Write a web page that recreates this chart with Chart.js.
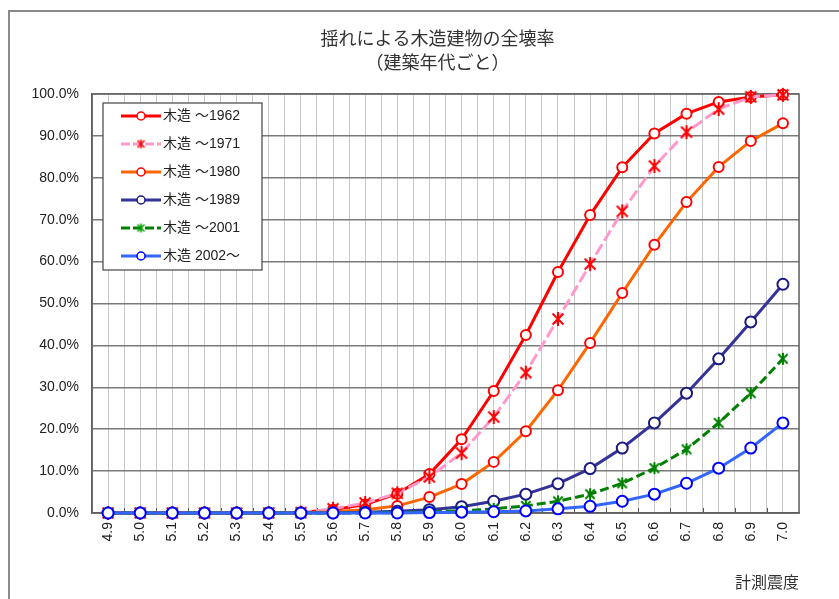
<!DOCTYPE html>
<html lang="ja">
<head>
<meta charset="utf-8">
<script src="https://cdn.jsdelivr.net/npm/chart.js@4.4.1/dist/chart.umd.min.js"></script>
<style>
  html, body { margin: 0; padding: 0; background: #fff; }
  #wrap { position: relative; width: 839px; height: 599px; overflow: hidden; }
  #frame { position: absolute; left: 8px; top: 10px; width: 900px; height: 700px;
           border-top: 2px solid #8a8a8a; border-left: 2px solid #8a8a8a; }
  #chart { position: absolute; left: 0; top: 0; }
</style>
</head>
<body>
<div id="wrap">
  <div id="frame"></div>
  <canvas id="chart" width="839" height="599"></canvas>
</div>
<script>
// ----------------------------------------------------
// DATA
// ----------------------------------------------------
const titleLines = ['揺れによる木造建物の全壊率', '（建築年代ごと）'];
const xAxisTitle = '計測震度';
const intensity = ['4.9', '5.0', '5.1', '5.2', '5.3', '5.4', '5.5', '5.6', '5.7', '5.8', '5.9',
                   '6.0', '6.1', '6.2', '6.3', '6.4', '6.5', '6.6', '6.7', '6.8', '6.9', '7.0'];
const seriesNames = ['木造 ～1962', '木造 ～1971', '木造 ～1980', '木造 ～1989', '木造 ～2001', '木造 2002～'];

const upTo1962 = [0, 0, 0, 0, 0, 0, 0.2, 0.8, 2.0, 4.6, 9.3, 17.6, 29.1, 42.5, 57.5, 71.1, 82.5, 90.6, 95.3, 98.1, 99.3, 99.8];
const upTo1971 = [0, 0, 0, 0, 0, 0, 0.1, 1.0, 2.4, 4.7, 8.6, 14.3, 22.9, 33.5, 46.3, 59.4, 72.0, 82.8, 90.9, 96.4, 99.3, 99.8];
const upTo1980 = [0, 0, 0, 0, 0, 0, 0, 0.3, 0.8, 1.7, 3.8, 6.9, 12.2, 19.5, 29.3, 40.6, 52.5, 64.0, 74.2, 82.6, 88.8, 93.0];
const upTo1989 = [0, 0, 0, 0, 0, 0, 0, 0, 0.2, 0.4, 0.8, 1.5, 2.8, 4.5, 7.0, 10.6, 15.5, 21.5, 28.6, 36.8, 45.6, 54.6];
const upTo2001 = [0, 0, 0, 0, 0, 0, 0, 0, 0, 0.1, 0.3, 0.5, 1.0, 1.7, 2.8, 4.5, 7.1, 10.7, 15.2, 21.5, 28.6, 36.8];
const from2002 = [0, 0, 0, 0, 0, 0, 0, 0, 0, 0, 0.1, 0.2, 0.3, 0.5, 1.0, 1.6, 2.8, 4.5, 7.1, 10.7, 15.5, 21.5];

const FONT = "'Liberation Sans', 'Noto Sans CJK JP', sans-serif";
const JP_FONT = "'Noto Sans CJK JP', 'Liberation Sans', sans-serif";

// Excel-like star marker: vertical bar + X
function makeStar(color, size, lw) {
  const c = document.createElement('canvas');
  c.width = size; c.height = size;
  const g = c.getContext('2d');
  const m = size / 2, r = size / 2 - 1;
  const d = r * 0.78;
  g.strokeStyle = color; g.lineWidth = lw;
  g.beginPath();
  g.moveTo(m, m - r); g.lineTo(m, m + r);
  g.moveTo(m - d, m - d); g.lineTo(m + d, m + d);
  g.moveTo(m + d, m - d); g.lineTo(m - d, m + d);
  g.stroke();
  return c;
}

const styles = [
  { line: '#ff0000', point: 'circle', pBorder: '#ff0000', radius: 5, dash: [] },
  { line: '#ff99cc', point: makeStar('#ff0000', 16, 2), legendPoint: makeStar('#ff0000', 11, 1.5), pBorder: '#ff0000', radius: 7, dash: [12, 4] },
  { line: '#ff6600', point: 'circle', pBorder: '#ff0000', radius: 5, dash: [] },
  { line: '#333399', point: 'circle', pBorder: '#1a1a80', radius: 5.5, dash: [] },
  { line: '#008000', point: makeStar('#008000', 14, 2), legendPoint: makeStar('#00a000', 11, 1.5), pBorder: '#008000', radius: 6, dash: [9, 4] },
  { line: '#3366ff', point: 'circle', pBorder: '#0000ff', radius: 5.5, dash: [] }
];
const seriesValues = [upTo1962, upTo1971, upTo1980, upTo1989, upTo2001, from2002];

const datasets = seriesValues.map((vals, i) => ({
  label: seriesNames[i],
  data: vals,
  borderColor: styles[i].line,
  borderWidth: 3,
  borderDash: styles[i].dash,
  tension: 0,
  clip: false,
  pointStyle: styles[i].point,
  pointRadius: styles[i].radius,
  pointBorderColor: styles[i].pBorder,
  pointBackgroundColor: '#ffffff',
  pointBorderWidth: 2,
  order: seriesValues.length - i
}));

// ----------------------------------------------------
// PLUGINS
// ----------------------------------------------------
const titlePlugin = {
  id: 'jpTitle',
  afterDraw(chart) {
    const { ctx, chartArea } = chart;
    const cx = (chartArea.left + chartArea.right) / 2 - 8;
    ctx.save();
    ctx.fillStyle = '#333';
    ctx.font = '18px ' + JP_FONT;
    ctx.textAlign = 'center';
    ctx.textBaseline = 'middle';
    ctx.fillText(titleLines[0], cx, 38);
    ctx.fillText(titleLines[1], cx, 62);
    ctx.restore();
  }
};

const plotFramePlugin = {
  id: 'plotFrame',
  beforeDatasetsDraw(chart) {
    const { ctx, chartArea } = chart;
    const xs = chart.scales.x;
    ctx.save();
    ctx.strokeStyle = '#555';
    ctx.lineWidth = 1;
    ctx.beginPath();
    for (let i = 1; i < intensity.length; i++) {
      const bx = Math.round((xs.getPixelForTick(i - 1) + xs.getPixelForTick(i)) / 2) + 0.5;
      ctx.moveTo(bx, chartArea.bottom - 5);
      ctx.lineTo(bx, chartArea.bottom);
    }
    ctx.stroke();
    ctx.strokeStyle = '#666';
    ctx.lineWidth = 1.5;
    ctx.strokeRect(chartArea.left, chartArea.top, chartArea.right - chartArea.left, chartArea.bottom - chartArea.top);
    ctx.restore();
  }
};

const boxLegendPlugin = {
  id: 'boxLegend',
  afterDraw(chart) {
    const { ctx, chartArea } = chart;
    const left = chartArea.left + 11, top = chartArea.top + 9;
    const w = 159, h = 167;
    ctx.save();
    ctx.fillStyle = '#fff';
    ctx.fillRect(left, top, w, h);
    ctx.strokeStyle = '#444';
    ctx.lineWidth = 1.2;
    ctx.strokeRect(left, top, w, h);
    chart.data.datasets.forEach((ds, i) => {
      const y = top + 13 + i * 28;
      const x0 = left + 18, x1 = left + 58;
      ctx.strokeStyle = ds.borderColor;
      ctx.lineWidth = 3;
      ctx.setLineDash(ds.borderDash.length ? [9, 3] : []);
      ctx.beginPath();
      ctx.moveTo(x0, y); ctx.lineTo(x1, y);
      ctx.stroke();
      ctx.setLineDash([]);
      ctx.fillStyle = '#fff';
      ctx.strokeStyle = ds.pointBorderColor;
      ctx.lineWidth = 1.5;
      const ps = styles[i].legendPoint || 'circle';
      Chart.helpers.drawPoint(ctx, { pointStyle: ps, radius: 4, borderWidth: 1.5, rotation: 0 }, (x0 + x1) / 2, y);
      ctx.fillStyle = '#222';
      ctx.font = '14px ' + FONT;
      ctx.textAlign = 'left';
      ctx.textBaseline = 'middle';
      ctx.fillText(ds.label, x1 + 2, y);
    });
    ctx.restore();
  }
};

// ----------------------------------------------------
// CHART
// ----------------------------------------------------
new Chart(document.getElementById('chart'), {
  type: 'line',
  data: { labels: intensity, datasets: datasets },
  options: {
    responsive: false,
    animation: false,
    layout: { padding: { top: 94, right: 40, left: 0, bottom: 0 } },
    plugins: {
      legend: { display: false },
      title: { display: false },
      tooltip: { enabled: false }
    },
    scales: {
      x: {
        type: 'category',
        offset: true,
        grid: { offset: true, color: '#c8c8c8', lineWidth: 1, drawTicks: false },
        border: { color: '#555', width: 1.5 },
        ticks: { minRotation: 90, maxRotation: 90, autoSkip: false, padding: 9, color: '#222', font: { family: FONT, size: 14 } },
        title: { display: true, text: xAxisTitle, align: 'end', color: '#333', font: { family: JP_FONT, size: 16 }, padding: { top: 0, bottom: 7 } },
        afterFit(scale) { scale.height = 86; }
      },
      x2: {
        type: 'category',
        labels: intensity,
        position: 'bottom',
        offset: true,
        grid: { offset: false, color: '#c8c8c8', lineWidth: 1, drawTicks: false },
        border: { display: false },
        ticks: { display: false },
        afterFit(scale) { scale.height = 0; }
      },
      y: {
        min: 0,
        max: 100,
        grid: { color: '#7a7a7a', lineWidth: 1.5, drawTicks: false },
        border: { color: '#555', width: 1.5 },
        ticks: { stepSize: 10, padding: 13, color: '#222', font: { family: FONT, size: 14 },
                 callback: v => v.toFixed(1) + '%' },
        afterFit(scale) { scale.width = 92; }
      }
    }
  },
  plugins: [plotFramePlugin, titlePlugin, boxLegendPlugin]
});
</script>
</body>
</html>
